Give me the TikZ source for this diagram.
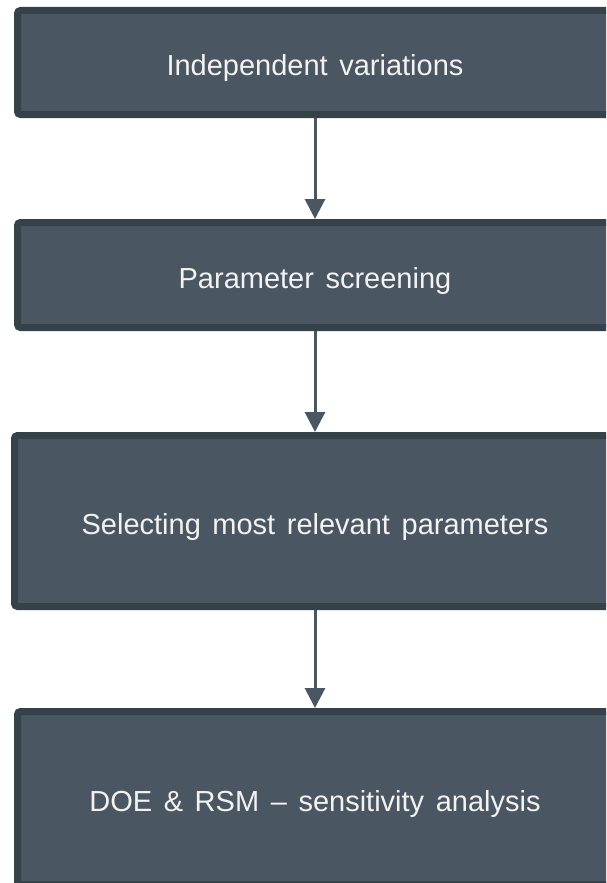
\documentclass[tikz,border=0pt]{standalone}
\usepackage{fontspec}
\setmainfont{Liberation Sans}
\usetikzlibrary{arrows.meta, positioning}

\definecolor{boxfill}{HTML}{4A5661}
\definecolor{boxline}{HTML}{36424A}
\definecolor{boxtext}{HTML}{F2F2F2}
\newcommand{\boxfont}{\fontsize{29}{34}\selectfont\spaceskip=0.4em\relax}

\begin{document}
\begin{tikzpicture}[
    x=1pt, y=1pt,
    node distance=100pt,
    box/.style={rectangle, draw=boxline, fill=boxfill, line width=7pt, rounded corners=3pt, align=center, minimum width=595pt, text=boxtext, text height=26pt, text depth=0pt, font=\boxfont},
    arrow/.style={-{Triangle[length=20pt, width=20pt]}, draw=boxfill, line width=3pt}
]
\useasboundingbox (0,0) rectangle (606,-883);
\clip (0,0) rectangle (606,-883);

\node[box, minimum height=104pt] (indep) at (315,-62.5) {Independent variations};
\node[box, minimum height=105pt, below=101pt of indep] (screen) {Parameter screening};
\node[box, minimum height=171pt, minimum width=601pt, below=101pt of screen] (select) {Selecting most relevant parameters};
\node[box, minimum height=173pt, below=98pt of select] (doe) {DOE \& RSM -- sensitivity analysis};

\draw[arrow] (indep) -- (screen);
\draw[arrow] (screen) -- (select);
\draw[arrow] (select) -- (doe);
\end{tikzpicture}
\end{document}
